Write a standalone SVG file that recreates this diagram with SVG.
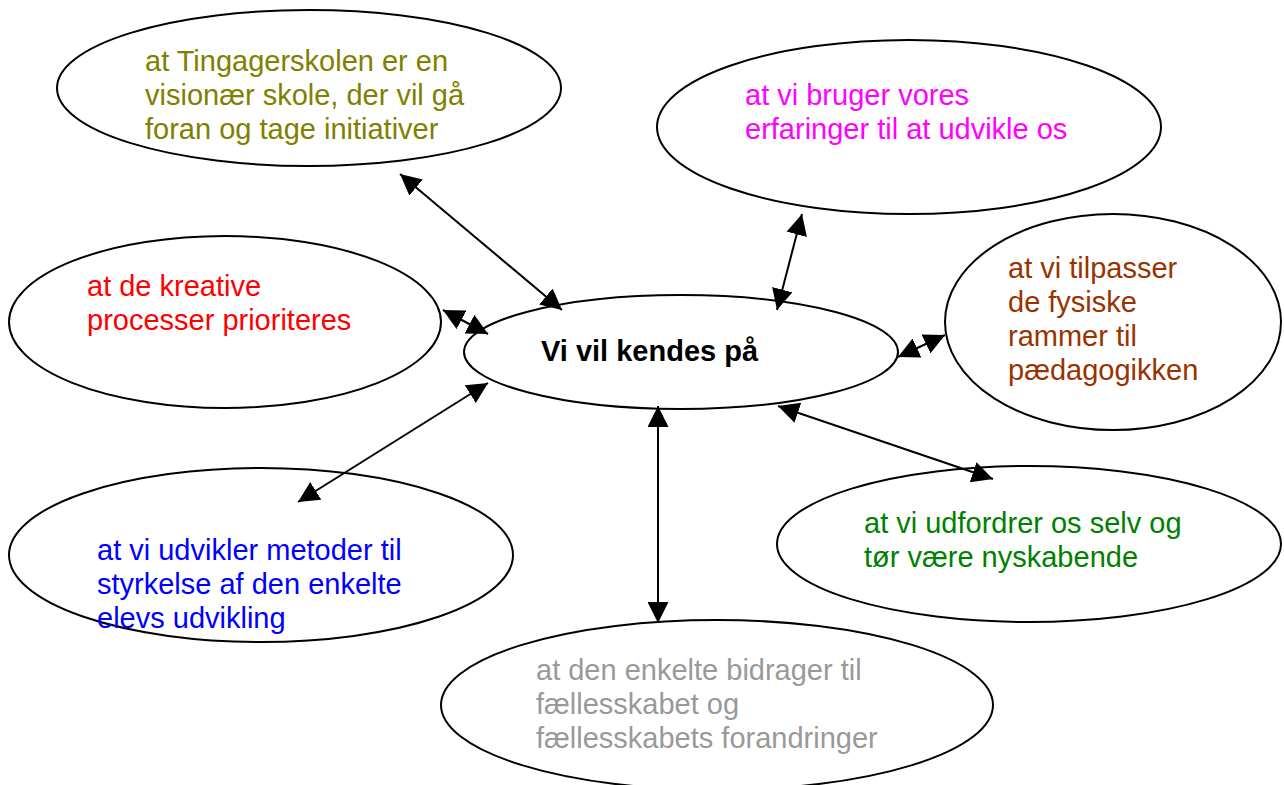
<svg xmlns="http://www.w3.org/2000/svg" width="1284" height="785" viewBox="0 0 1284 785">
<defs>
<marker id="ah" viewBox="0 0 20 20" refX="20" refY="10" markerWidth="21" markerHeight="21" markerUnits="userSpaceOnUse" orient="auto-start-reverse">
<path d="M0,0 L20,10 L0,20 Z" fill="#000"/>
</marker>
<style>
.e{fill:#fff;stroke:#000;stroke-width:2}
.t{font-family:"Liberation Sans",Arial,sans-serif;font-size:29px}
.c line{stroke:#000;stroke-width:2;marker-start:url(#ah);marker-end:url(#ah)}
</style>
</defs>
<rect width="1284" height="785" fill="#fff"/>
<g id="n-olive"><ellipse class="e" cx="309" cy="88" rx="252" ry="78"/>
<text class="t" fill="#808000"><tspan x="145" y="71">at Tingagerskolen er en</tspan><tspan x="145" y="105">visionær skole, der vil gå</tspan><tspan x="145" y="139">foran og tage initiativer</tspan></text></g>
<g id="n-magenta"><ellipse class="e" cx="909" cy="127" rx="252" ry="87"/>
<text class="t" fill="#ff00ff"><tspan x="745" y="105">at vi bruger vores</tspan><tspan x="745" y="139">erfaringer til at udvikle os</tspan></text></g>
<g id="n-red"><ellipse class="e" cx="225" cy="322" rx="216" ry="86"/>
<text class="t" fill="#ff0000"><tspan x="87" y="296">at de kreative</tspan><tspan x="87" y="330">processer prioriteres</tspan></text></g>
<g id="n-center"><ellipse class="e" cx="681" cy="352" rx="217" ry="57"/>
<text class="t" fill="#000" font-weight="bold" font-size="30" x="541" y="361">Vi vil kendes på</text></g>
<g id="n-brown"><ellipse class="e" cx="1113" cy="322" rx="168" ry="108"/>
<text class="t" fill="#993300"><tspan x="1008" y="278">at vi tilpasser</tspan><tspan x="1008" y="312">de fysiske</tspan><tspan x="1008" y="346">rammer til</tspan><tspan x="1008" y="380">pædagogikken</tspan></text></g>
<g id="n-blue"><ellipse class="e" cx="261" cy="555" rx="252" ry="87"/>
<text class="t" fill="#0000ff"><tspan x="97" y="560">at vi udvikler metoder til</tspan><tspan x="97" y="594">styrkelse af den enkelte</tspan><tspan x="97" y="628">elevs udvikling</tspan></text></g>
<g id="n-green"><ellipse class="e" cx="1029" cy="544" rx="252" ry="78"/>
<text class="t" fill="#008000"><tspan x="864" y="533">at vi udfordrer os selv og</tspan><tspan x="864" y="567">tør være nyskabende</tspan></text></g>
<g id="n-gray"><ellipse class="e" cx="717" cy="705" rx="276" ry="85"/>
<text class="t" fill="#999999"><tspan x="536" y="680">at den enkelte bidrager til</tspan><tspan x="536" y="714">fællesskabet og</tspan><tspan x="536" y="748">fællesskabets forandringer</tspan></text></g>
<g id="connectors" class="c">
<line x1="400" y1="174" x2="562" y2="310"/>
<line x1="443" y1="310" x2="488" y2="334"/>
<line x1="898" y1="357" x2="945" y2="335"/>
<line x1="802" y1="214" x2="777" y2="310"/>
<line x1="658" y1="406" x2="658" y2="623"/>
<line x1="488" y1="383" x2="298" y2="502"/>
<line x1="778" y1="406" x2="993" y2="479"/>
</g>
</svg>
